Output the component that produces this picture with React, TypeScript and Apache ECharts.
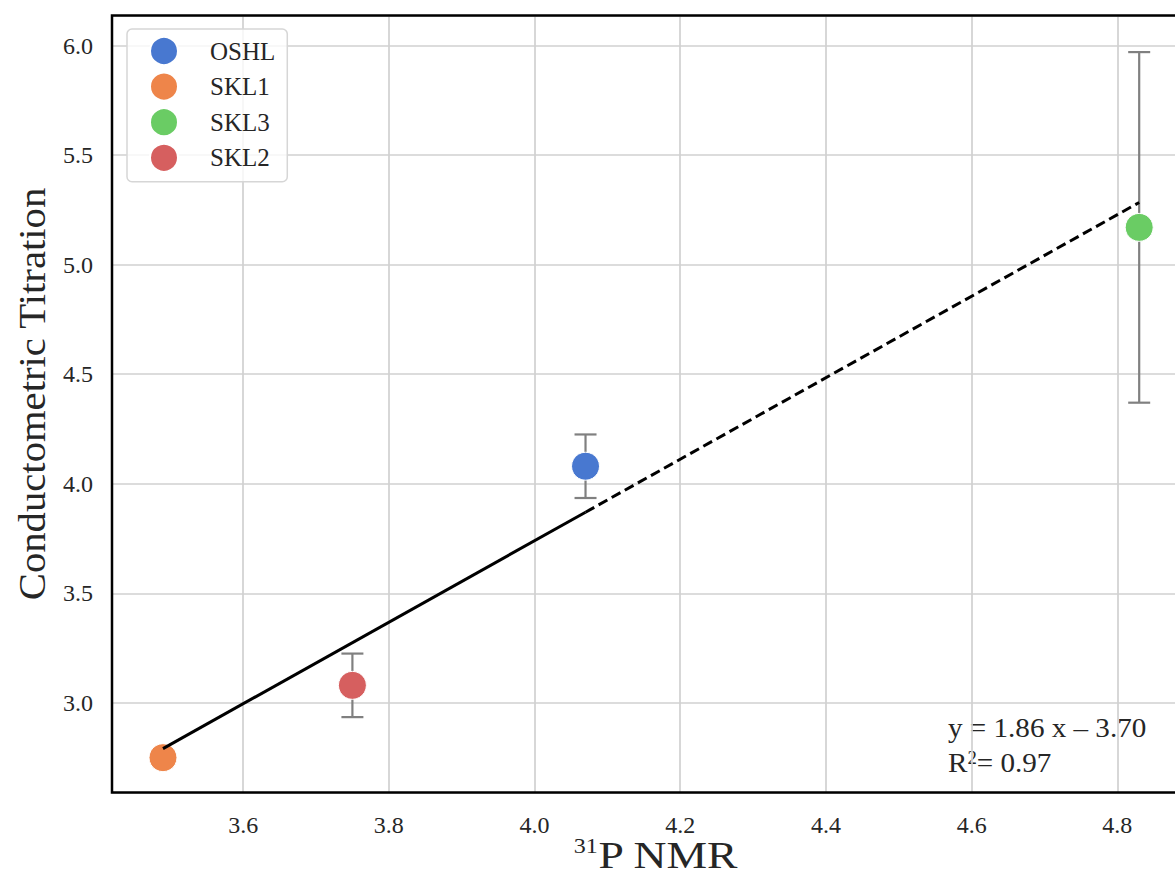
import { useEffect, useRef } from "react";
import * as echarts from "echarts";

// Samples and their measured phosphorus contents
const samples = ["OSHL", "SKL1", "SKL3", "SKL2"];
const nmrValues = [4.07, 3.49, 4.83, 3.75];
const titrationValues = [4.08, 2.75, 5.17, 3.08];
const titrationErrors = [0.145, 0, 0.8, 0.145];
const sampleColors = ["#4878d0", "#ee854a", "#6acc64", "#d65f5f"];

// Linear fit between the two methods
const FIT_SLOPE = 1.86;
const FIT_INTERCEPT = -3.7;
const FIT_R2 = 0.97;
const fitSolidRange = [3.49, 4.07];
const fitDashedRange = [4.07, 4.83];

// Axis windows
const xRange = [3.42, 4.897];
const yRange = [2.591, 6.137];
const xStep = 0.2;
const yStep = 0.5;

const FONT = '"Liberation Serif", "Times New Roman", serif';
const TEXT = "#262626";

const fitAt = (x: number) => FIT_SLOPE * x + FIT_INTERCEPT;
const isStep = (v: number, step: number) =>
  Math.abs(v / step - Math.round(v / step)) < 1e-6;

const tickRich = {
  t: { fontFamily: FONT, fontSize: 24, color: TEXT, lineHeight: 26 },
};

export default function App() {
  const ref = useRef<HTMLDivElement>(null);

  useEffect(() => {
    if (!ref.current) return;
    const chart = echarts.init(ref.current, undefined, { renderer: "svg" });

    const grid = { left: 112, top: 15.5, width: 1076, height: 777 };

    const scatterSeries = samples.map((name, i) => ({
      name,
      type: "scatter",
      data: [[nmrValues[i], titrationValues[i]]],
      symbolSize: 28,
      itemStyle: { color: sampleColors[i], borderColor: "#ffffff", borderWidth: 1, opacity: 1 },
      z: 3,
      silent: true,
    }));

    const errorData = samples
      .map((_, i) => [nmrValues[i], titrationValues[i], titrationErrors[i]])
      .filter((d) => d[2] > 0);

    const sign = FIT_INTERCEPT < 0 ? "–" : "+";
    const equation = `y = ${FIT_SLOPE.toFixed(2)} x ${sign} ${Math.abs(FIT_INTERCEPT).toFixed(2)}`;

    chart.setOption({
      animation: false,
      backgroundColor: "#ffffff",
      textStyle: { fontFamily: FONT },
      grid: { ...grid, containLabel: false, outerBoundsMode: "none" },
      xAxis: {
        type: "value",
        min: xRange[0],
        max: xRange[1],
        minInterval: xStep,
        maxInterval: xStep,
        splitNumber: 7,
        axisLine: { show: false },
        axisTick: { show: false },
        axisLabel: {
          fontFamily: FONT,
          fontSize: 24,
          color: TEXT,
          margin: 19,
          rich: tickRich,
          formatter: (v: number) => (isStep(v, xStep) ? `{t|${v.toFixed(1)}}` : ""),
        },
        splitLine: { show: true, lineStyle: { color: "#d0d0d0", width: 1.7 } },
      },
      yAxis: {
        type: "value",
        min: yRange[0],
        max: yRange[1],
        minInterval: yStep,
        maxInterval: yStep,
        splitNumber: 7,
        axisLine: { show: false },
        axisTick: { show: false },
        axisLabel: {
          fontFamily: FONT,
          fontSize: 24,
          color: TEXT,
          margin: 19,
          rich: tickRich,
          formatter: (v: number) => (isStep(v, yStep) ? `{t|${v.toFixed(1)}}` : ""),
        },
        splitLine: { show: true, lineStyle: { color: "#d0d0d0", width: 1.7 } },
      },
      legend: {
        data: samples,
        orient: "vertical",
        left: 127,
        top: 29,
        itemWidth: 28,
        itemHeight: 28,
        itemGap: 5.6,
        icon: "circle",
        padding: [7, 12, 9, 22],
        backgroundColor: "rgba(255,255,255,0.8)",
        borderColor: "#d6d6d6",
        borderWidth: 1.5,
        borderRadius: 5,
        selectedMode: false,
        textStyle: { fontFamily: FONT, fontSize: 25, color: TEXT, padding: [0, 0, 0, 27] },
      },
      series: [
        {
          type: "custom",
          silent: true,
          z: 2,
          data: errorData,
          renderItem: (_params: any, api: any) => {
            const x = api.value(0);
            const y = api.value(1);
            const e = api.value(2);
            const top = api.coord([x, y + e]);
            const bot = api.coord([x, y - e]);
            const cap = 11;
            const style = { stroke: "#808080", lineWidth: 2.2 };
            return {
              type: "group",
              children: [
                { type: "line", shape: { x1: top[0], y1: top[1], x2: bot[0], y2: bot[1] }, style },
                { type: "line", shape: { x1: top[0] - cap, y1: top[1], x2: top[0] + cap, y2: top[1] }, style },
                { type: "line", shape: { x1: bot[0] - cap, y1: bot[1], x2: bot[0] + cap, y2: bot[1] }, style },
              ],
            };
          },
        },
        ...scatterSeries,
        {
          name: "fit",
          type: "line",
          data: fitSolidRange.map((x) => [x, fitAt(x)]),
          showSymbol: false,
          symbol: "none",
          silent: true,
          z: 4,
          lineStyle: { color: "#000000", width: 3, type: "solid" },
        },
        {
          name: "fit extrapolated",
          type: "line",
          data: fitDashedRange.map((x) => [x, fitAt(x)]),
          showSymbol: false,
          symbol: "none",
          silent: true,
          z: 4,
          lineStyle: { color: "#000000", width: 3, type: [10, 5] },
        },
      ],
      graphic: [
        {
          type: "rect",
          z: 100,
          silent: true,
          shape: { x: grid.left, y: grid.top, width: grid.width, height: grid.height },
          style: { fill: "none", stroke: "#000000", lineWidth: 2.5 },
        },
        {
          type: "text",
          x: 32,
          y: 394,
          rotation: Math.PI / 2,
          scaleX: 1.1,
          silent: true,
          style: {
            text: "Conductometric Titration",
            font: `37px ${FONT}`,
            fill: TEXT,
            align: "center",
            verticalAlign: "middle",
            textAlign: "center",
            textVerticalAlign: "middle",
          },
        },
        {
          type: "text",
          x: 656,
          y: 855,
          scaleX: 1.2,
          silent: true,
          style: {
            text: "{s|31}{m|P NMR}",
            align: "center",
            verticalAlign: "middle",
            textAlign: "center",
            textVerticalAlign: "middle",
            rich: {
              m: { fontFamily: FONT, fontSize: 38, fill: TEXT, color: TEXT, lineHeight: 38 },
              s: { fontFamily: FONT, fontSize: 20, fill: TEXT, color: TEXT, lineHeight: 14, verticalAlign: "top" },
            },
          },
        },
        {
          type: "text",
          x: 948,
          y: 728,
          scaleX: 1.04,
          silent: true,
          style: {
            text: equation,
            font: `28px ${FONT}`,
            fill: TEXT,
            align: "left",
            verticalAlign: "middle",
            textAlign: "left",
            textVerticalAlign: "middle",
          },
        },
        {
          type: "text",
          x: 948,
          y: 763,
          scaleX: 1.04,
          silent: true,
          style: {
            text: `{m|R}{s|2}{m|= ${FIT_R2.toFixed(2)}}`,
            align: "left",
            verticalAlign: "middle",
            textAlign: "left",
            textVerticalAlign: "middle",
            rich: {
              m: { fontFamily: FONT, fontSize: 28, fill: TEXT, color: TEXT, lineHeight: 28 },
              s: { fontFamily: FONT, fontSize: 18, fill: TEXT, color: TEXT, lineHeight: 16, verticalAlign: "top" },
            },
          },
        },
      ],
    });

    return () => chart.dispose();
  }, []);

  return (
    <div
      ref={ref}
      style={{ position: "absolute", left: 0, top: 0, width: 1175, height: 876 }}
    />
  );
}
